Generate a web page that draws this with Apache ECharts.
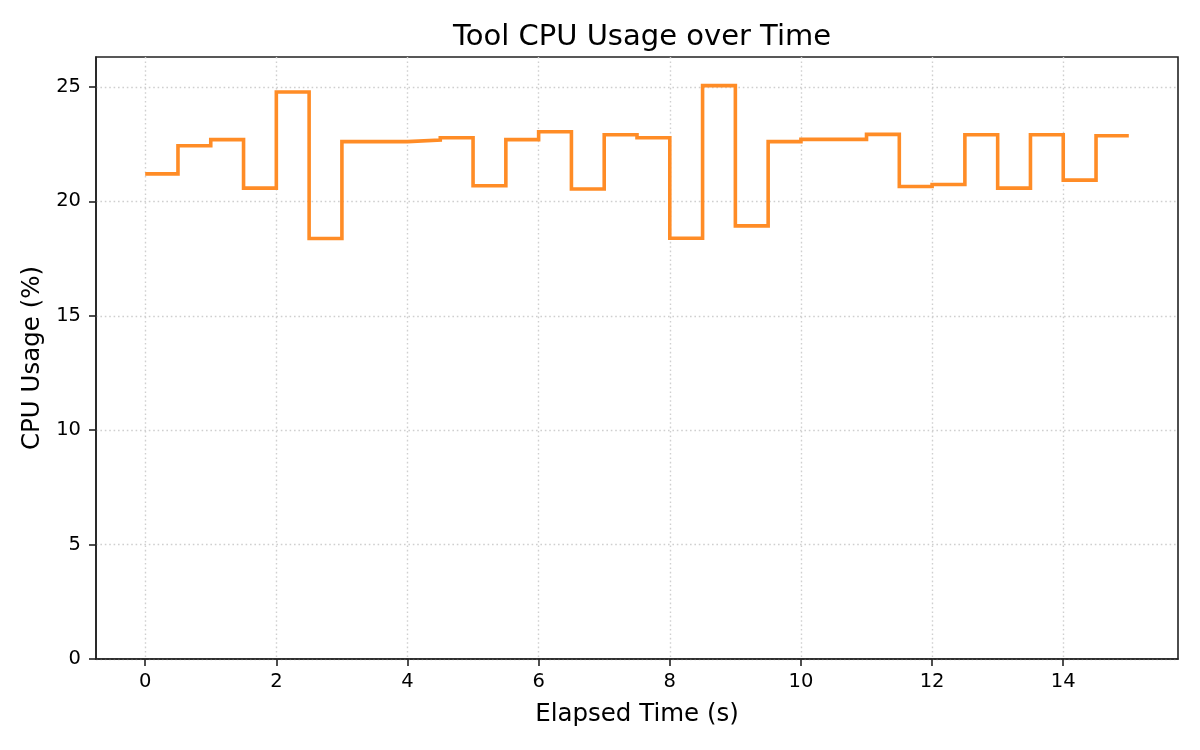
<!DOCTYPE html>
<html lang="en">
<head>
<meta charset="UTF-8">
<title>Tool CPU Usage over Time</title>
<script src="https://cdn.jsdelivr.net/npm/echarts@6/dist/echarts.min.js"></script>
<style>
html, body { margin: 0; padding: 0; background: #fff; }
#chart { width: 1200px; height: 750px; }
</style>
</head>
<body>
<div id="chart"></div>
<script>
// elapsed time (s), one sample every 0.5 s
const elapsed = [0, 0.5, 1, 1.5, 2, 2.5, 3, 3.5, 4, 4.5, 5, 5.5, 6, 6.5, 7, 7.5,
  8, 8.5, 9, 9.5, 10, 10.5, 11, 11.5, 12, 12.5, 13, 13.5, 14, 14.5, 15];
// CPU usage (%)
const cpuUsage = [21.2, 22.43, 22.7, 20.58, 24.78, 18.38, 22.61, 22.61, 22.68, 22.78,
  20.68, 22.7, 23.04, 20.54, 22.91, 22.78, 18.39, 25.06, 18.93, 22.61,
  22.71, 22.71, 22.93, 20.65, 20.74, 22.91, 20.58, 22.91, 20.93, 22.87, 22.87];
const xTicks = [0, 2, 4, 6, 8, 10, 12, 14];
const yTicks = [0, 5, 10, 15, 20, 25];

const font = 'DejaVu Sans';
const chart = echarts.init(document.getElementById('chart'));

const gridLine = {
  show: true,
  lineStyle: { color: '#cfcfcf', width: 1.4, type: [1.6, 2.8] }
};

chart.setOption({
  animation: false,
  title: {
    text: 'Tool CPU Usage over Time',
    left: 637,
    textAlign: 'center',
    top: 18,
    textStyle: { fontFamily: font, fontSize: 29, fontWeight: 'normal', color: '#000' }
  },
  grid: {
    left: 96, right: 22, top: 57, bottom: 91,
    show: true, borderColor: '#222', borderWidth: 1.6, backgroundColor: 'transparent'
  },
  xAxis: {
    type: 'value',
    min: -0.75,
    max: 15.75,
    name: 'Elapsed Time (s)',
    nameLocation: 'middle',
    nameGap: 43,
    nameTextStyle: { fontFamily: font, fontSize: 24.5, color: '#000' },
    axisLine: { onZero: false, lineStyle: { color: '#222', width: 1.6 } },
    axisTick: { customValues: xTicks, length: 7, lineStyle: { color: '#222', width: 1.6 } },
    axisLabel: { customValues: xTicks, margin: 13, fontFamily: font, fontSize: 19.5, color: '#000' },
    splitLine: gridLine
  },
  yAxis: {
    type: 'value',
    min: 0,
    max: 26.31,
    name: 'CPU Usage (%)',
    nameLocation: 'middle',
    nameGap: 49,
    nameTextStyle: { fontFamily: font, fontSize: 24.5, color: '#000' },
    axisLine: { show: true, onZero: false, lineStyle: { color: '#222', width: 1.6 } },
    axisTick: { show: true, customValues: yTicks, length: 7, lineStyle: { color: '#222', width: 1.6 } },
    axisLabel: { customValues: yTicks, margin: 15, fontFamily: font, fontSize: 19.5, color: '#000' },
    splitLine: gridLine
  },
  series: [{
    type: 'line',
    step: 'end',
    data: elapsed.map((t, i) => [t, cpuUsage[i]]),
    showSymbol: false,
    lineStyle: { color: '#ff8c26', width: 3.6, join: 'miter' },
    itemStyle: { color: '#ff8c26' }
  }]
});
</script>
</body>
</html>
